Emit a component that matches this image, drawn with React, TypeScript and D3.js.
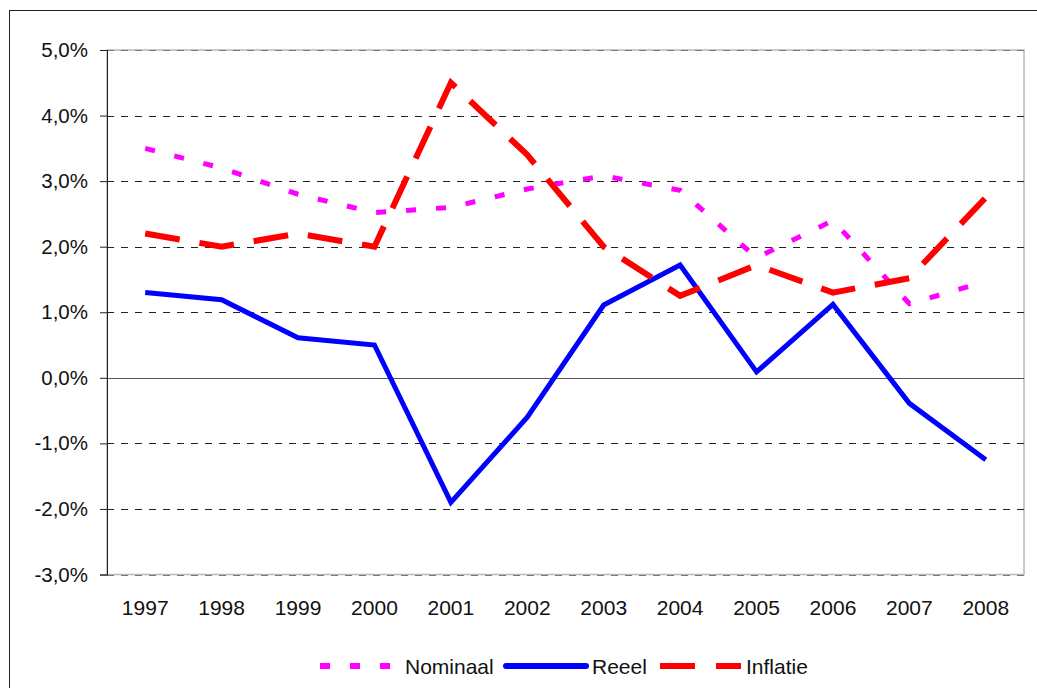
import React, { useEffect, useRef } from "react";
import * as d3 from "d3";

const years = ["1997", "1998", "1999", "2000", "2001", "2002", "2003", "2004", "2005", "2006", "2007", "2008"];
const nominaal = [3.5, 3.2, 2.8, 2.52, 2.6, 2.88, 3.08, 2.86, 1.83, 2.4, 1.13, 1.47];
const reeel = [1.3, 1.19, 0.61, 0.5, -1.9, -0.6, 1.11, 1.72, 0.09, 1.12, -0.39, -1.25];
const inflatie = [2.2, 2.0, 2.2, 2.0, 4.5, 3.4, 2.0, 1.25, 1.72, 1.3, 1.52, 2.75];
const yTicks = [-3, -2, -1, 0, 1, 2, 3, 4, 5];

const series = [
  { name: "Nominaal", values: nominaal, color: "#ff00ff", width: 5, dash: "10,20" },
  { name: "Reeel", values: reeel, color: "#0000ff", width: 5, dash: null },
  { name: "Inflatie", values: inflatie, color: "#ff0000", width: 6, dash: "35,20" },
];

const App: React.FC = () => {
  const svgRef = useRef<SVGSVGElement | null>(null);

  useEffect(() => {
    const svg = d3.select(svgRef.current);
    svg.selectAll("*").remove();

    const left = 107, right = 1024, top = 50, bottom = 574.5;
    const font = "'Liberation Sans', Arial, sans-serif";

    const x = d3.scaleBand().domain(years).range([left, right]);
    const y = d3.scaleLinear().domain([-3, 5]).range([bottom, top]);
    const cx = (yr: string) => (x(yr) ?? 0) + x.bandwidth() / 2;

    // outer frame
    svg.append("rect")
      .attr("x", 9.5).attr("y", 10.5)
      .attr("width", 1040).attr("height", 700)
      .attr("fill", "white").attr("stroke", "#222").attr("stroke-width", 1);

    // plot border (gray)
    svg.append("rect")
      .attr("x", left).attr("y", top)
      .attr("width", right - left).attr("height", bottom - top)
      .attr("fill", "none").attr("stroke", "#b8b8b8").attr("stroke-width", 1.5);

    // gridlines (top and bottom ones lighter, over the gray border)
    svg.append("g")
      .selectAll("line")
      .data(yTicks.filter((t) => t !== 0))
      .join("line")
      .attr("x1", left).attr("x2", right)
      .attr("y1", (d) => Math.round(y(d)) + 0.5).attr("y2", (d) => Math.round(y(d)) + 0.5)
      .attr("stroke", (d) => (d === 5 || d === -3 ? "#777" : "#222"))
      .attr("stroke-width", 1)
      .attr("stroke-dasharray", "7,7");

    // zero line
    svg.append("line")
      .attr("x1", left).attr("x2", right)
      .attr("y1", Math.round(y(0)) + 0.5).attr("y2", Math.round(y(0)) + 0.5)
      .attr("stroke", "#555").attr("stroke-width", 1.2);

    // y axis
    const yAxis = d3.axisLeft(y)
      .tickValues(yTicks)
      .tickSize(7)
      .tickPadding(12)
      .tickFormat((d) => (d as number).toFixed(1).replace(".", ",") + "%");
    const ga = svg.append("g").attr("transform", `translate(${left},0)`).call(yAxis);
    ga.select(".domain").attr("stroke", "#222");
    ga.selectAll(".tick line").attr("stroke", "#222");
    ga.selectAll("text")
      .attr("font-family", font).attr("font-size", 20.5).attr("fill", "#111");

    // x labels
    svg.append("g")
      .selectAll("text")
      .data(years)
      .join("text")
      .attr("x", (d) => cx(d))
      .attr("y", 615)
      .attr("text-anchor", "middle")
      .attr("font-family", font).attr("font-size", 21)
      .attr("fill", "#111")
      .text((d) => d);

    // lines
    const line = d3.line<number>()
      .x((_, i) => cx(years[i]))
      .y((d) => y(d));

    series.forEach((s) => {
      const p = svg.append("path")
        .datum(s.values)
        .attr("d", line)
        .attr("fill", "none")
        .attr("stroke", s.color)
        .attr("stroke-width", s.width)
        .attr("stroke-linejoin", "miter");
      if (s.dash) p.attr("stroke-dasharray", s.dash);
    });

    // legend
    const ly = 666;
    const leg = svg.append("g");
    leg.append("line")
      .attr("x1", 320).attr("x2", 393).attr("y1", ly).attr("y2", ly)
      .attr("stroke", "#ff00ff").attr("stroke-width", 6).attr("stroke-dasharray", "10,20");
    leg.append("text").attr("x", 405).attr("y", ly + 7.5)
      .attr("font-family", font).attr("font-size", 21).attr("fill", "#111").text(series[0].name);
    leg.append("line")
      .attr("x1", 506).attr("x2", 586).attr("y1", ly).attr("y2", ly)
      .attr("stroke", "#0000ff").attr("stroke-width", 6).attr("stroke-linecap", "round");
    leg.append("text").attr("x", 592).attr("y", ly + 7.5)
      .attr("font-family", font).attr("font-size", 21).attr("fill", "#111").text(series[1].name);
    leg.append("line")
      .attr("x1", 660).attr("x2", 741).attr("y1", ly).attr("y2", ly)
      .attr("stroke", "#ff0000").attr("stroke-width", 6).attr("stroke-dasharray", "35,21");
    leg.append("text").attr("x", 746).attr("y", ly + 7.5)
      .attr("font-family", font).attr("font-size", 21).attr("fill", "#111").text(series[2].name);
  }, []);

  return (
    <svg
      ref={svgRef}
      width={1037}
      height={688}
      style={{ position: "absolute", left: 0, top: 0, background: "white" }}
    />
  );
};

export default App;
